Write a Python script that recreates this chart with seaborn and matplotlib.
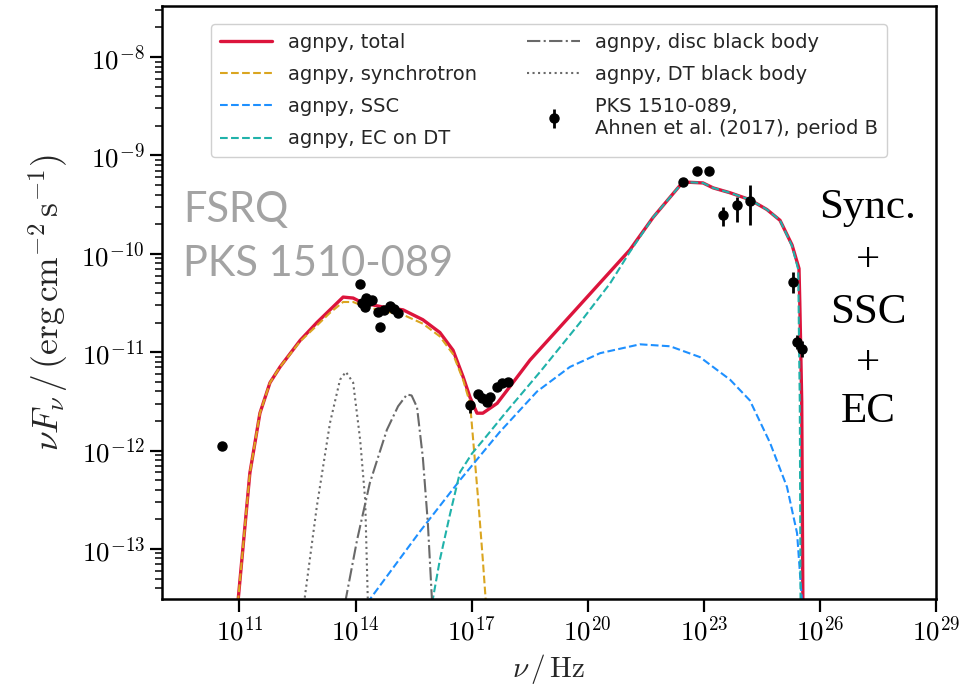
import numpy as np
import pandas as pd
import matplotlib
matplotlib.use("Agg")
import matplotlib.pyplot as plt
import seaborn as sns
from matplotlib.ticker import FixedLocator, FuncFormatter, LogLocator, NullLocator

# ---------------- data (log10 of frequency in Hz, log10 of nuFnu in erg cm-2 s-1) -------------
total_lognu = [10.96, 11.27, 11.53, 11.79, 12.05, 12.57, 13.00, 13.34, 13.68, 13.94, 14.19, 14.70, 15.23, 15.74,
               16.18, 16.52, 16.78, 16.96, 17.14, 17.29, 17.66, 17.99, 18.51, 21.09, 21.69, 22.46,
               22.98, 23.24, 23.68, 24.19, 24.63, 24.97, 25.28, 25.46, 25.48, 25.50, 25.53, 25.56]
total_logF = [-13.55, -12.23, -11.62, -11.31, -11.15, -10.88, -10.70, -10.57, -10.44, -10.45, -10.50, -10.54, -10.57, -10.67,
              -10.80, -10.98, -11.25, -11.46, -11.62, -11.62, -11.52, -11.35, -11.08, -9.96, -9.63, -9.27,
              -9.28, -9.33, -9.38, -9.45, -9.55, -9.66, -9.91, -10.15, -10.49, -10.88, -11.50, -13.55]

sync_lognu = [10.96, 11.27, 11.53, 11.79, 12.05, 12.57, 13.00, 13.34, 13.68, 13.94, 14.19, 14.70, 15.23, 15.74,
              16.18, 16.52, 16.78, 16.96, 17.04, 17.17, 17.29, 17.37]
sync_logF = [-13.55, -12.23, -11.62, -11.31, -11.15, -10.89, -10.73, -10.60, -10.49, -10.49, -10.53, -10.58, -10.62, -10.71,
             -10.84, -11.02, -11.28, -11.52, -11.89, -12.50, -13.11, -13.55]

ssc_lognu = [14.30, 15.67, 16.70, 17.73, 18.69, 19.54, 20.32, 21.35, 22.13, 22.90, 23.68, 24.19, 24.71,
             25.15, 25.41, 25.54]
ssc_logF = [-13.55, -12.82, -12.30, -11.81, -11.40, -11.15, -11.01, -10.92, -10.94, -11.05, -11.28, -11.49, -11.92,
            -12.37, -12.84, -13.55]

ec_lognu = [15.98, 16.18, 16.44, 16.70, 17.01, 17.35, 17.91, 18.77, 19.80, 20.58, 21.09, 21.69, 22.46,
            22.98, 23.24, 23.68, 24.19, 24.63, 24.97, 25.28, 25.44, 25.45, 25.46, 25.48, 25.50]
ec_logF = [-13.55, -13.11, -12.65, -12.22, -12.03, -11.87, -11.60, -11.20, -10.70, -10.30, -9.98, -9.63, -9.27,
           -9.28, -9.33, -9.38, -9.45, -9.55, -9.66, -9.92, -10.16, -10.50, -10.90, -11.50, -13.55]

disc_lognu = [13.73, 14.04, 14.37, 14.81, 15.10, 15.33, 15.45, 15.59, 15.74, 15.87, 15.98]
disc_logF = [-13.55, -12.91, -12.33, -11.79, -11.55, -11.43, -11.44, -11.56, -12.07, -12.74, -13.55]

dt_lognu = [12.67, 13.00, 13.34, 13.60, 13.75, 13.94, 14.12, 14.25, 14.32]
dt_logF = [-13.55, -12.57, -11.72, -11.28, -11.20, -11.31, -11.89, -12.50, -13.55]

# observed SED points: log10 nu, log10 nuFnu, lower / upper error (dex)
obs_lognu = [10.55,
             14.12, 14.17, 14.27, 14.35, 14.43, 14.25, 14.63, 14.58, 14.74, 14.89, 15.00, 15.10,
             16.96, 17.17, 17.27, 17.40, 17.48, 17.66, 17.79, 17.94,
             22.46, 22.82, 23.13, 23.50, 23.86, 24.19,
             25.30, 25.41, 25.54]
obs_logF = [-11.95,
            -10.31, -10.50, -10.45, -10.48, -10.47, -10.54, -10.74, -10.59, -10.57, -10.53, -10.56, -10.60,
            -11.54, -11.43, -11.47, -11.51, -11.46, -11.35, -11.31, -11.30,
            -9.27, -9.16, -9.16, -9.61, -9.50, -9.46,
            -10.29, -10.90, -10.97]
obs_errlo = [0.0,
             0, 0, 0, 0, 0, 0, 0, 0, 0, 0, 0, 0,
             0.08, 0.02, 0.02, 0.02, 0.02, 0.02, 0.02, 0.02,
             0.02, 0.0, 0.0, 0.11, 0.18, 0.25,
             0.11, 0.07, 0.08]
obs_errhi = [0.0,
             0, 0, 0, 0, 0, 0, 0, 0, 0, 0, 0, 0,
             0.02, 0.02, 0.02, 0.02, 0.02, 0.02, 0.02, 0.02,
             0.02, 0.0, 0.0, 0.09, 0.08, 0.16,
             0.11, 0.07, 0.08]

x_tick_exps = [11, 14, 17, 20, 23, 26, 29]
y_tick_exps = [-13, -12, -11, -10, -9, -8]

# ---------------- style ----------------
sns.set_style("ticks")
plt.rcParams["font.family"] = ["DejaVu Sans"]
plt.rcParams["mathtext.fontset"] = "cm"

W, H = 960, 691
fig = plt.figure(figsize=(W / 100, H / 100), dpi=100)
ax = fig.add_axes([162 / W, 1 - 599 / H, 774 / W, 593 / H])
ax.set_xscale("log")
ax.set_yscale("log")


def curve(lognu, logF):
    return pd.DataFrame({"nu": np.power(10.0, lognu), "F": np.power(10.0, logF)})


sns.lineplot(data=curve(total_lognu, total_logF), x="nu", y="F", ax=ax, sort=False, estimator=None,
             color="crimson", lw=2.4, label="agnpy, total")
sns.lineplot(data=curve(sync_lognu, sync_logF), x="nu", y="F", ax=ax, sort=False, estimator=None,
             color="goldenrod", lw=1.5, linestyle="--", label="agnpy, synchrotron")
sns.lineplot(data=curve(ssc_lognu, ssc_logF), x="nu", y="F", ax=ax, sort=False, estimator=None,
             color="dodgerblue", lw=1.5, linestyle="--", label="agnpy, SSC")
sns.lineplot(data=curve(ec_lognu, ec_logF), x="nu", y="F", ax=ax, sort=False, estimator=None,
             color="lightseagreen", lw=1.5, linestyle="--", label="agnpy, EC on DT")
sns.lineplot(data=curve(disc_lognu, disc_logF), x="nu", y="F", ax=ax, sort=False, estimator=None,
             color="dimgray", lw=1.5, linestyle="-.", label="agnpy, disc black body")
sns.lineplot(data=curve(dt_lognu, dt_logF), x="nu", y="F", ax=ax, sort=False, estimator=None,
             color="dimgray", lw=1.5, linestyle=":", label="agnpy, DT black body")

onu = np.power(10.0, obs_lognu)
oF = np.power(10.0, obs_logF)
elo = oF - np.power(10.0, np.array(obs_logF) - np.array(obs_errlo))
ehi = np.power(10.0, np.array(obs_logF) + np.array(obs_errhi)) - oF
ax.errorbar(onu, oF, yerr=[elo, ehi], fmt="o", color="k", ms=6.5, elinewidth=2, capsize=0,
            label="PKS 1510-089,\nAhnen et al. (2017), period B", zorder=5)

ax.set_xlim(1e9, 1e29)
ax.set_ylim(3.1e-14, 3.3e-8)

ax.xaxis.set_major_locator(FixedLocator([10.0 ** e for e in x_tick_exps]))
ax.xaxis.set_minor_locator(NullLocator())
ax.yaxis.set_major_locator(FixedLocator([10.0 ** e for e in y_tick_exps]))
ax.yaxis.set_minor_locator(LogLocator(base=10, subs=np.arange(2, 10), numticks=50))
fmt = FuncFormatter(lambda v, p: r"$10^{%d}$" % int(round(np.log10(v))))
ax.xaxis.set_major_formatter(fmt)
ax.yaxis.set_major_formatter(fmt)
ax.yaxis.set_minor_formatter(FuncFormatter(lambda v, p: ""))

for s in ax.spines.values():
    s.set_linewidth(1.8)
    s.set_color("black")
    s.set_visible(True)
ax.tick_params(which="major", direction="out", length=9, width=1.6, labelsize=19.5, colors="black")
ax.tick_params(which="minor", direction="out", length=5, width=1.1, colors="black")

ax.set_xlabel(r"$\nu\,/\,{\rm Hz}$", fontsize=21, labelpad=4)
ax.set_ylabel(r"$\nu F_{\nu}\,/\,({\rm erg}\,{\rm cm}^{-2}\,{\rm s}^{-1})$", fontsize=25.5, labelpad=8)

ax.legend(loc="upper center", bbox_to_anchor=(0.5, 0.986), ncol=2, fontsize=14,
          handlelength=2.7, handletextpad=0.8, columnspacing=2.6, labelspacing=0.68,
          borderpad=0.45, frameon=True, fancybox=True, edgecolor="#d0d0d0", framealpha=1.0)

grey = "#a3a3a3"
fig.text(183 / W, 1 - 222 / H, "FSRQ", fontsize=30, color=grey, family=["Lato", "DejaVu Sans"],
         weight="normal", va="baseline", ha="left")
fig.text(183 / W, 1 - 276 / H, "PKS 1510-089", fontsize=30, color=grey, family=["Lato", "DejaVu Sans"],
         weight="normal", va="baseline", ha="left")

serif = ["Liberation Serif", "DejaVu Serif"]
for txt, base in [("Sync.", 218), ("+", 271), ("SSC", 323), ("+", 374), ("EC", 422)]:
    fig.text(868 / W, 1 - base / H, txt, fontsize=31, family=serif, color="black", ha="center", va="baseline")

fig.savefig("out.png", dpi=100)
